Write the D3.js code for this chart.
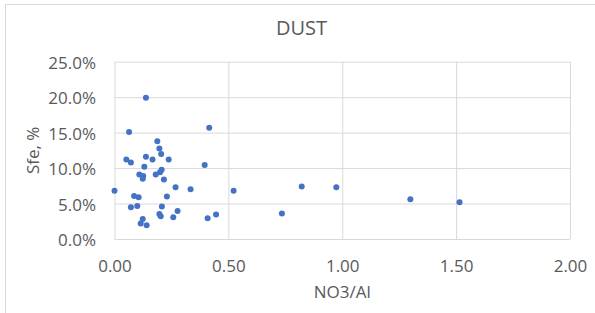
<!DOCTYPE html>
<html>
<head>
<meta charset="utf-8">
<script src="https://cdn.jsdelivr.net/npm/d3@7"></script>
<style>
  body { margin: 0; background: #fff; }
  text { font-family: "Open Sans", "Liberation Sans", sans-serif; fill: #595959; }
</style>
</head>
<body>
<div id="chart"></div>
<script>
// NO3/Al ratio for each dust sample
const no3Al = [
  0.138, 0.064, 0.416, 0.188, 0.197, 0.205, 0.052, 0.072, 0.138, 0.167,
  0.238, 0.131, 0.396, 0.109, 0.126, 0.124, 0.181, 0.200, 0.207, 0.217,
  0.000, 0.268, 0.334, 0.523, 0.086, 0.106, 0.230, 0.072, 0.100, 0.208,
  0.277, 0.197, 0.203, 0.258, 0.409, 0.446, 0.124, 0.115, 0.141,
  0.735, 0.822, 0.974, 1.299, 1.515
];
// Sfe (fraction) for the same samples
const sfe = [
  0.199, 0.151, 0.157, 0.138, 0.1275, 0.120, 0.112, 0.108, 0.116, 0.112,
  0.112, 0.102, 0.1045, 0.091, 0.089, 0.085, 0.091, 0.094, 0.0975, 0.084,
  0.068, 0.073, 0.070, 0.068, 0.0607, 0.059, 0.0598, 0.0447, 0.0466, 0.0457,
  0.0395, 0.0353, 0.032, 0.0306, 0.0292, 0.0344, 0.0282, 0.022, 0.0193,
  0.0358, 0.0739, 0.073, 0.056, 0.0518
];
const xTicks = [0, 0.5, 1, 1.5, 2];
const yTicks = [0, 0.05, 0.10, 0.15, 0.20, 0.25];
const chartTitle = "DUST";
const xTitle = "NO3/Al";
const yTitle = "Sfe, %";

const W = 595, H = 313;
const plotL = 114.5, plotR = 570, plotT = 61.7, plotB = 239;

const svg = d3.select("#chart").append("svg")
  .attr("width", W).attr("height", H);

// outer chart frame
svg.append("rect")
  .attr("x", 5.5).attr("y", 4.5)
  .attr("width", W + 10).attr("height", H + 10)
  .attr("fill", "none").attr("stroke", "#d9d9d9");

const x = d3.scaleLinear().domain([0, 2]).range([plotL, plotR]);
const y = d3.scaleLinear().domain([0, 0.25]).range([plotB, plotT]);

// y axis with gridlines
const yAxis = svg.append("g")
  .attr("transform", "translate(" + plotL + ",0)")
  .call(d3.axisLeft(y).tickValues(yTicks).tickFormat(d3.format(".1%"))
    .tickSize(-(plotR - plotL)).tickPadding(18.5));
yAxis.select(".domain").remove();
yAxis.selectAll("line").attr("stroke", "#d9d9d9");
yAxis.selectAll("text").attr("font-size", 17).attr("dy", "0.38em");

// x axis with gridlines
const xAxis = svg.append("g")
  .attr("transform", "translate(0," + plotB + ")")
  .call(d3.axisBottom(x).tickValues(xTicks).tickFormat(d3.format(".2f"))
    .tickSize(-(plotB - plotT)).tickPadding(20.6));
xAxis.select(".domain").remove();
xAxis.selectAll("line").attr("stroke", "#d9d9d9");
xAxis.selectAll("text").attr("font-size", 17);
svg.selectAll(".tick text").style("font-family", '"Open Sans", "Liberation Sans", sans-serif').attr("fill", "#595959");

// points
svg.append("g").selectAll("circle")
  .data(no3Al.map((d, i) => [d, sfe[i]]))
  .enter().append("circle")
  .attr("cx", d => x(d[0]))
  .attr("cy", d => y(d[1]))
  .attr("r", 3)
  .attr("fill", "#4472C4");

// titles
svg.append("text")
  .attr("x", 301.5).attr("y", 35)
  .attr("text-anchor", "middle")
  .attr("font-size", 20)
  .text(chartTitle);

svg.append("text")
  .attr("x", (plotL + plotR) / 2).attr("y", 298)
  .attr("text-anchor", "middle")
  .attr("font-size", 17)
  .text(xTitle);

svg.append("text")
  .attr("transform", "translate(39," + ((plotT + plotB) / 2) + ") rotate(-90)")
  .attr("text-anchor", "middle")
  .attr("font-size", 17)
  .text(yTitle);
</script>
</body>
</html>
